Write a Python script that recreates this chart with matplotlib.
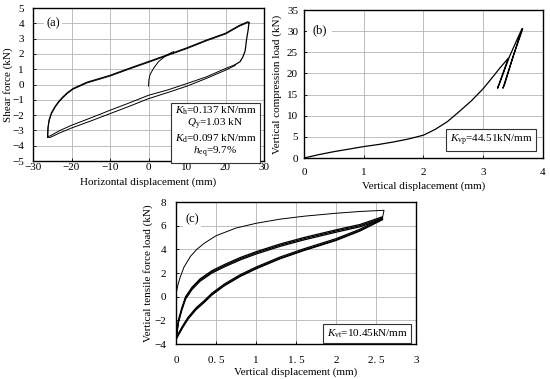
import numpy as np
import matplotlib.pyplot as plt

plt.rcParams['font.family'] = ['Liberation Serif', 'DejaVu Serif']
plt.rcParams['font.size'] = 8
plt.rcParams['mathtext.fontset'] = 'custom'
plt.rcParams['mathtext.rm'] = 'Liberation Serif'
plt.rcParams['mathtext.it'] = 'Liberation Serif:italic'
plt.rcParams['axes.unicode_minus'] = True

# (a) horizontal hysteresis
a_init_x = [0.0, 0.1, 0.4, 1.3, 2.6, 4.7, 6.5]
a_init_y = [-0.1, 0.3, 0.65, 1.06, 1.5, 1.93, 2.15]

a_up_x = [-26.2, -26.1, -25.8, -25.2, -24.3, -23.3, -22.2, -21.0, -19.6, -16.0, -10.0, -4.0, 0.0, 5.0, 10.0, 15.0, 20.0, 23.5, 25.8, 26.1]
a_up1_y = [-3.4, -2.8, -2.3, -1.85, -1.45, -1.1, -0.8, -0.52, -0.26, 0.15, 0.6, 1.15, 1.5, 1.95, 2.4, 2.9, 3.35, 3.85, 4.1, 4.05]
a_up2_y = [-3.45, -2.85, -2.35, -1.9, -1.5, -1.15, -0.85, -0.57, -0.31, 0.1, 0.55, 1.1, 1.45, 1.9, 2.35, 2.85, 3.3, 3.8, 4.05, 4.0]

a_rt_x = [26.1, 25.9, 25.5, 25.1, 24.5, 23.8, 22.5]
a_rt_y = [4.05, 3.6, 3.0, 2.2, 1.8, 1.5, 1.3]

a_lo_x = [22.5, 20.0, 15.0, 10.0, 5.0, 0.0, -5.0, -10.0, -15.0, -20.0, -23.0, -25.5, -26.2]
a_lo1_y = [1.3, 1.05, 0.5, 0.07, -0.35, -0.7, -1.2, -1.68, -2.18, -2.66, -3.0, -3.35, -3.4]
a_lo2_y = [1.25, 0.94, 0.4, -0.1, -0.52, -0.92, -1.42, -1.9, -2.38, -2.84, -3.15, -3.45, -3.45]

a_xticks = [-30, -20, -10, 0, 10, 20, 30]
a_yticks = [-5, -4, -3, -2, -1, 0, 1, 2, 3, 4, 5]

# (b) vertical compression
b_x = [0.0, 0.25, 0.5, 0.75, 1.0, 1.25, 1.5, 1.75, 2.0, 2.2, 2.4, 2.6, 2.8, 3.0, 3.15, 3.28, 3.42,
       3.24, 3.27, 3.44, 3.55, 3.65, 3.33, 3.36, 3.5, 3.66]
b_y = [0.0, 0.8, 1.5, 2.1, 2.7, 3.2, 3.8, 4.5, 5.4, 6.8, 8.6, 11.0, 13.5, 16.4, 19.0, 21.3, 23.6,
       16.5, 17.5, 24.0, 27.5, 30.6, 16.5, 17.5, 24.0, 30.5]

# (c) vertical tension
c_first_x = [0.0, 0.02, 0.05, 0.1, 0.18, 0.26, 0.35, 0.5, 0.75, 1.0, 1.3, 1.6, 2.0, 2.3, 2.6, 2.58]
c_first_y = [0.15, 0.9, 1.6, 2.5, 3.4, 4.0, 4.5, 5.15, 5.8, 6.2, 6.55, 6.8, 7.05, 7.2, 7.3, 6.65]

c_lo_x = [2.58, 2.3, 2.0, 1.6, 1.3, 1.0, 0.8, 0.6, 0.45, 0.35, 0.25, 0.15, 0.08, 0.03, 0.0]
c_lo1_y = [6.65, 5.7, 4.9, 4.05, 3.35, 2.5, 1.85, 1.05, 0.3, -0.35, -0.95, -1.75, -2.5, -3.1, -3.55]
c_lo2_y = [6.55, 5.6, 4.8, 3.95, 3.25, 2.4, 1.75, 0.95, 0.2, -0.45, -1.05, -1.85, -2.6, -3.2, -3.6]
c_lo3_y = [6.5, 5.55, 4.75, 3.9, 3.2, 2.35, 1.7, 0.9, 0.15, -0.5, -1.1, -1.9, -2.65, -3.25, -3.65]

c_mid_x = [0.0, 0.03, 0.07, 0.12, 0.2, 0.3, 0.45, 0.6, 0.8, 1.0, 1.3, 1.6, 2.0, 2.3, 2.58]
c_mid1_y = [-3.55, -2.0, -1.0, 0.0, 0.8, 1.5, 2.2, 2.7, 3.3, 3.8, 4.45, 5.0, 5.65, 6.1, 6.75]
c_mid2_y = [-3.6, -2.1, -1.1, -0.1, 0.7, 1.4, 2.1, 2.6, 3.2, 3.7, 4.35, 4.9, 5.55, 6.0, 6.65]
c_mid3_y = [-3.65, -2.2, -1.2, -0.2, 0.6, 1.3, 2.0, 2.5, 3.1, 3.6, 4.25, 4.8, 5.45, 5.9, 6.55]

c_xticks = [0, 0.5, 1, 1.5, 2, 2.5, 3]
c_xlabels = ['0', '0. 5', '1', '1. 5', '2', '2. 5', '3']
c_yticks = [-4, -2, 0, 2, 4, 6, 8]

fig = plt.figure(figsize=(5.5, 3.79), dpi=100)
ax_a = fig.add_axes([0.06, 0.575, 0.42, 0.4037])
ax_b = fig.add_axes([0.5527, 0.5831, 0.4345, 0.3905])
ax_c = fig.add_axes([0.32, 0.0923, 0.4364, 0.3747])

def style(ax, xpad, ypad):
    ax.grid(True, color='#b4b4b4', lw=0.6)
    ax.set_axisbelow(True)
    ax.tick_params(direction='in', length=2.5, width=0.6, labelsize=8)
    ax.tick_params(axis='x', pad=xpad)
    ax.tick_params(axis='y', pad=ypad)
    for s in ax.spines.values():
        s.set_linewidth(1.0)

lw = 0.9
bbox_lab = dict(facecolor='white', edgecolor='none', pad=1.5)
bbox_box = dict(facecolor='white', edgecolor='#333333', lw=0.8, boxstyle='square,pad=0.3')

# panel (a)
style(ax_a, 1.5, 6.5)
ax_a.plot(a_init_x, a_init_y, color='black', lw=0.7)
ax_a.plot(a_up_x, a_up1_y, color='black', lw=lw)
ax_a.plot(a_up_x, a_up2_y, color='black', lw=0.6)
ax_a.plot(a_rt_x, a_rt_y, color='black', lw=lw)
ax_a.plot(a_lo_x, a_lo1_y, color='black', lw=0.7)
ax_a.plot(a_lo_x, a_lo2_y, color='black', lw=0.7)
ax_a.set_xlim(-30, 30)
ax_a.set_ylim(-5, 5)
ax_a.set_xticks(a_xticks)
ax_a.set_yticks(a_yticks)
ax_a.set_xlabel('Horizontal displacement (mm)')
ax_a.set_ylabel('Shear force (kN)')
ax_a.xaxis.set_label_coords(0.5, -0.105)
ax_a.yaxis.set_label_coords(-0.087, 0.5)
ax_a.text(-26.5, 4.0, '(a)', fontsize=9, va='center', bbox=bbox_lab)
ax_a.text(17.4, -3.1,
          '$K_{\\rm h}$=0.137 kN/mm\n$Q_{\\rm y}$=1.03 kN\n$K_{\\rm d}$=0.097 kN/mm\n$h_{\\rm eq}$=9.7%',
          ha='center', va='center', multialignment='center', fontsize=8, linespacing=1.0,
          bbox=bbox_box)

# panel (b)
style(ax_b, 7, 4.3)
ax_b.plot(b_x, b_y, color='black', lw=lw)
ax_b.set_xlim(0, 4)
ax_b.set_ylim(0, 35)
ax_b.set_xticks([0, 1, 2, 3, 4])
ax_b.set_yticks(range(0, 36, 5))
ax_b.set_xlabel('Vertical displacement (mm)')
ax_b.set_ylabel('Vertical compression load (kN)')
ax_b.xaxis.set_label_coords(0.5, -0.16)
ax_b.yaxis.set_label_coords(-0.092, 0.5)
ax_b.text(0.14, 30.3, '(b)', fontsize=9, va='center', bbox=dict(facecolor='white', edgecolor='none', pad=4))
ax_b.text(3.13, 4.25, '$K_{\\rm vp}$=44.51kN/mm', ha='center', va='center', fontsize=8, bbox=bbox_box)

# panel (c)
style(ax_c, 8.5, 7)
ax_c.plot(c_first_x, c_first_y, color='black', lw=0.7)
for lo_y, mid_y in [(c_lo1_y, c_mid1_y), (c_lo2_y, c_mid2_y), (c_lo3_y, c_mid3_y)]:
    ax_c.plot(c_lo_x, lo_y, color='black', lw=lw)
    ax_c.plot(c_mid_x, mid_y, color='black', lw=lw)
ax_c.set_xlim(0, 3)
ax_c.set_ylim(-4, 8)
ax_c.set_xticks(c_xticks)
ax_c.set_xticklabels(c_xlabels)
ax_c.set_yticks(c_yticks)
ax_c.set_xlabel('Vertical displacement (mm)')
ax_c.set_ylabel('Vertical tensile force load (kN)')
ax_c.xaxis.set_label_coords(0.5, -0.165)
ax_c.yaxis.set_label_coords(-0.096, 0.5)
ax_c.text(0.12, 6.5, '(c)', fontsize=9, va='center', bbox=bbox_lab)
ax_c.text(2.39, -3.1, '$K_{\\rm vt}$=10.45kN/mm', ha='center', va='center', fontsize=8, bbox=bbox_box)

fig.savefig('out.png', dpi=100)
